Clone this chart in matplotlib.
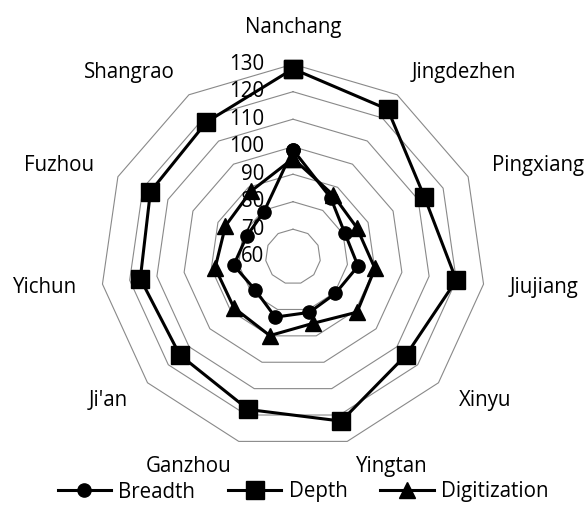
import numpy as np
import matplotlib
matplotlib.use("Agg")
import matplotlib.pyplot as plt
import matplotlib.transforms as mtransforms

plt.rcParams["font.family"] = ["Open Sans", "DejaVu Sans"]

cities = ["Nanchang", "Jingdezhen", "Pingxiang", "Jiujiang", "Xinyu", "Yingtan",
          "Ganzhou", "Ji'an", "Yichun", "Fuzhou", "Shangrao"]
breadth = [98.9, 85.4, 80.7, 83.9, 80.4, 81.1, 82.9, 78.3, 81.8, 78.4, 79.5]
depth = [128.3, 123.7, 112.5, 120.0, 114.5, 122.3, 117.9, 114.5, 116.1, 117.0, 118.2]
digitization = [95.7, 86.8, 85.5, 90.1, 90.8, 85.3, 89.9, 88.4, 88.6, 87.0, 88.3]
ring_values = [70, 80, 90, 100, 110, 120, 130]
tick_values = [60, 70, 80, 90, 100, 110, 120, 130]

R_MIN, R_MAX = 60, 130
FONT = 14.8
W, H = 585, 507
CX, CY, RAD = 293, 256.7, 192.5

fig = plt.figure(figsize=(W / 100, H / 100), dpi=100)
ax = fig.add_axes([(CX - RAD) / W, (H - CY - RAD) / H, 2 * RAD / W, 2 * RAD / H],
                  projection="polar")
ax.set_theta_zero_location("N")
ax.set_theta_direction(-1)
ax.set_ylim(R_MIN, R_MAX)
ax.grid(False)
ax.spines["polar"].set_visible(False)
ax.set_xticks([])
ax.set_yticks([])
ax.patch.set_visible(False)

n = len(cities)
theta = np.arange(n) * 2 * np.pi / n
theta_c = np.append(theta, theta[0])

# polygon gridlines like Excel
for v in ring_values:
    ax.plot(theta_c, [v] * (n + 1), color="#898989", lw=0.8, zorder=1, clip_on=False)

# radial tick labels, left of the top axis
off = mtransforms.offset_copy(ax.transData, fig=fig, x=-29, y=0, units="dots")
for v in tick_values:
    ax.text(0, v, str(v), transform=off, ha="right", va="center",
            fontsize=FONT, color="black", zorder=5)

series = [
    ("Breadth", breadth, "o", 9.5),
    ("Depth", depth, "s", 12.5),
    ("Digitization", digitization, "^", 11),
]
for name, vals, mk, ms in series:
    vals_c = vals + [vals[0]]
    ax.plot(theta_c, vals_c, color="black", lw=2.2, marker=mk, markersize=ms,
            label=name, zorder=3, clip_on=False)

# category labels
r_lab = R_MIN + 219 / RAD * (R_MAX - R_MIN)
for t, name in zip(theta, cities):
    s = np.sin(t)
    if abs(s) < 0.1:
        ha = "center"
    elif s > 0:
        ha = "left"
    else:
        ha = "right"
    va = "bottom" if abs(t) < 0.01 else "center"
    ax.text(t, r_lab, name, ha=ha, va=va, fontsize=FONT, clip_on=False)

fig.legend(loc="center", bbox_to_anchor=(303 / W, 1 - 492 / H), ncol=3,
           frameon=False, fontsize=FONT, handlelength=2.6, handletextpad=0.35,
           columnspacing=1.6, borderpad=0)

fig.savefig("out.png", dpi=100)
